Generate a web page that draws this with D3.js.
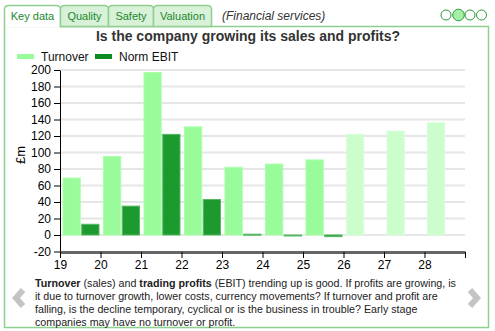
<!DOCTYPE html>
<html>
<head>
<meta charset="utf-8">
<script src="https://cdn.jsdelivr.net/npm/d3@7"></script>
<style>
  body { margin: 0; background: #fff; }
  svg { font-family: "Liberation Sans", Arial, sans-serif; }
</style>
</head>
<body>
<svg id="chart" width="495" height="331"></svg>
<script>
var years = [19, 20, 21, 22, 23, 24, 25, 26, 27, 28]
var turnover = [69, 95, 197, 131, 82, 86, 91, 122, 126, 136]
var ebit = [13, 35, 122, 43, 1, -1, -2, null, null, null]
var forecastFrom = 26
var yTicks = [-20, 0, 20, 40, 60, 80, 100, 120, 140, 160, 180, 200]
var tabs = ["Key data", "Quality", "Safety", "Valuation"]
var tabEdges = [4, 60, 108, 153, 211]
var note = [
    [["Turnover", true], [" (sales) and ", false], ["trading profits", true], [" (EBIT) trending up is good. If profits are growing, is", false]],
    [["it due to turnover growth, lower costs, currency movements? If turnover and profit are", false]],
    [["falling, is the decline temporary, cyclical or is the business in trouble? Early stage", false]],
    [["companies may have no turnover or profit.", false]]
]

var green = "#1a8a2a", border = "#8fd08f"
var svg = d3.select("#chart")

// panel + tabs
svg.append("rect").attr("x", 4.5).attr("y", 26.5).attr("width", 484).attr("height", 301)
    .attr("fill", "#fff").attr("stroke", border).attr("stroke-width", 1.5)
tabs.forEach(function (t, i) {
    var x0 = tabEdges[i] + 0.5, x1 = tabEdges[i + 1] + 0.5, top = 5.5, bot = 26.5, r = 4
    var p = `M${x0},${bot} L${x0},${top + r} Q${x0},${top} ${x0 + r},${top} L${x1 - r},${top} Q${x1},${top} ${x1},${top + r} L${x1},${bot}`
    svg.append("path").attr("d", p + (i == 0 ? "" : "Z"))
        .attr("fill", i == 0 ? "#fff" : "#d9f0d9")
        .attr("stroke", border).attr("stroke-width", 1.5)
    if (i == 0) svg.append("line").attr("x1", x0 + 1).attr("x2", x1 - 1).attr("y1", bot).attr("y2", bot)
        .attr("stroke", "#fff").attr("stroke-width", 2)
    svg.append("text").attr("x", (x0 + x1) / 2).attr("y", 20).attr("text-anchor", "middle")
        .attr("font-size", 11).attr("fill", green).text(t)
})
svg.append("text").attr("x", 222).attr("y", 20).attr("font-size", 12).attr("font-style", "italic")
    .attr("fill", "#333").text("(Financial services)")

var dots = [446, 458.5, 470, 481.5]
svg.selectAll(".dot").data(dots).join("circle")
    .attr("cx", function (d) { return d }).attr("cy", 15)
    .attr("r", function (d, i) { return i == 1 ? 5.8 : 5 })
    .attr("fill", function (d, i) { return i == 1 ? "#a6efa6" : "#fff" })
    .attr("stroke", "#2a9a3a").attr("stroke-width", 1)

svg.append("text").attr("x", 248).attr("y", 41).attr("text-anchor", "middle")
    .attr("font-size", 14).attr("font-weight", "bold").attr("fill", "#333")
    .text("Is the company growing its sales and profits?")

// legend
var legend = [["Turnover", "#99fb99", 17], ["Norm EBIT", "#0d8a22", 95]]
legend.forEach(function (l) {
    svg.append("rect").attr("x", l[2]).attr("y", 54).attr("width", 17).attr("height", 5).attr("fill", l[1])
    svg.append("text").attr("x", l[2] + 24).attr("y", 61).attr("font-size", 12).attr("fill", "#111").text(l[0])
})

// scales
var x = d3.scaleLinear().domain([19, 29]).range([60, 465])
var y = d3.scaleLinear().domain([-20, 200]).range([251.5, 70])
var sub = d3.scaleBand().domain(["t", "e"]).range([3, 39]).paddingInner(0.08)

svg.append("g").selectAll("line").data(yTicks.filter(function (d) { return d >= 0 })).join("line")
    .attr("x1", 60).attr("x2", 465)
    .attr("y1", function (d) { return y(d) }).attr("y2", function (d) { return y(d) })
    .attr("stroke", "#e6e6e6").attr("stroke-width", 2)

// bars
svg.append("g").selectAll("rect").data(years).join("rect")
    .attr("x", function (d) { return x(d) + sub("t") })
    .attr("width", sub.bandwidth())
    .attr("y", function (d, i) { return y(turnover[i]) })
    .attr("height", function (d, i) { return y(0) - y(turnover[i]) })
    .attr("fill", function (d) { return d >= forecastFrom ? "#ccfdcc" : "#99fb99" })
    .attr("stroke", function (d) { return d >= forecastFrom ? "#d8ffd8" : "#aaffaa" })
    .attr("stroke-width", 1)

svg.append("g").selectAll("rect").data(years.filter(function (d, i) { return ebit[i] != null })).join("rect")
    .attr("x", function (d) { return x(d) + sub("e") })
    .attr("width", sub.bandwidth())
    .attr("y", function (d, i) { return y(Math.max(0, ebit[i])) })
    .attr("height", function (d, i) { return Math.max(1, Math.abs(y(0) - y(ebit[i]))) })
    .attr("fill", "#1c9a2e").attr("stroke", "#55b862").attr("stroke-width", 1)

// axes
var yAxis = svg.append("g").attr("transform", "translate(60,0)")
    .call(d3.axisLeft(y).tickValues(yTicks).tickSize(6).tickPadding(3).tickSizeOuter(0)
        .tickFormat(function (d) { return String(d) }))
yAxis.selectAll("text").attr("font-size", 12).attr("fill", "#000").attr("font-family", "Liberation Sans, Arial, sans-serif")
yAxis.select(".domain").attr("stroke", "#000")

var xAxis = svg.append("g").attr("transform", "translate(0,252)")
    .call(d3.axisBottom(x).tickValues(d3.range(19, 30)).tickSize(6).tickPadding(2).tickSizeOuter(0)
        .tickFormat(function (d) { return d < 29 ? d : "" }))
xAxis.selectAll("text").attr("font-size", 12).attr("fill", "#000").attr("font-family", "Liberation Sans, Arial, sans-serif")
xAxis.select(".domain").attr("stroke", "#666").attr("stroke-width", 3)

svg.append("text").attr("transform", "translate(25,155) rotate(-90)").attr("text-anchor", "middle")
    .attr("font-size", 13).attr("fill", "#000").text("£m")

// note text
note.forEach(function (line, i) {
    var t = svg.append("text").attr("x", 35).attr("y", 286.5 + i * 13.3).attr("font-size", 10.7).attr("fill", "#222")
    line.forEach(function (s) {
        t.append("tspan").attr("font-weight", s[1] ? "bold" : "normal").text(s[0])
    })
})

// arrows
svg.append("polyline").attr("points", "23,290 16,298 23,306").attr("fill", "none")
    .attr("stroke", "#c4c4c4").attr("stroke-width", 6)
svg.append("polyline").attr("points", "470,290 477,298 470,306").attr("fill", "none")
    .attr("stroke", "#c4c4c4").attr("stroke-width", 6)
</script>
</body>
</html>
